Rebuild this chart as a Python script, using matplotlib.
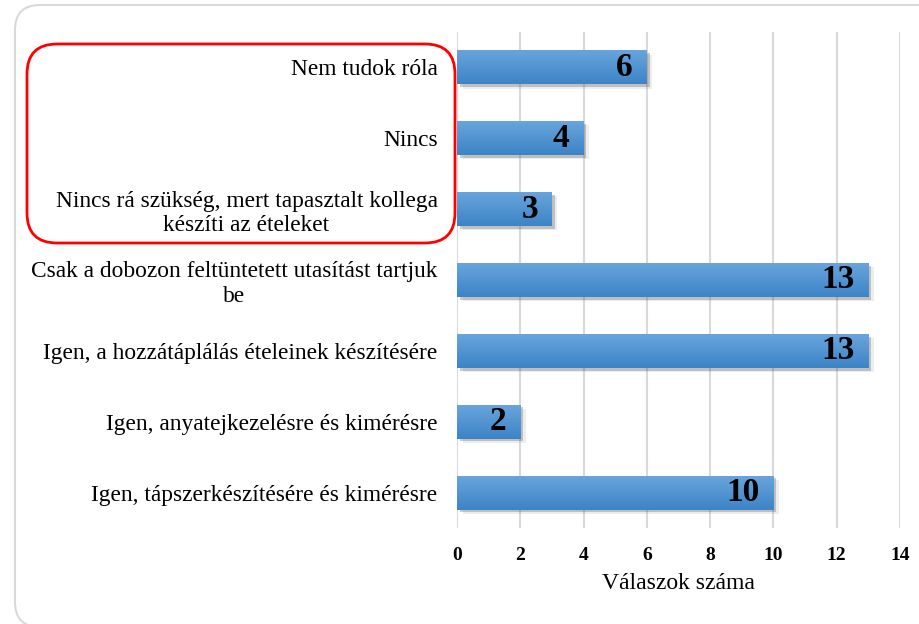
import numpy as np
import matplotlib.pyplot as plt
from matplotlib.patches import FancyBboxPatch
from matplotlib.transforms import IdentityTransform
from matplotlib.colors import LinearSegmentedColormap
import matplotlib.patheffects as pe

categories = [
    "Nem tudok róla",
    "Nincs",
    "Nincs rá szükség, mert tapasztalt kollega\nkészíti az ételeket",
    "Csak a dobozon feltüntetett utasítást tartjuk\nbe",
    "Igen, a hozzátáplálás ételeinek készítésére",
    "Igen, anyatejkezelésre és kimérésre",
    "Igen, tápszerkészítésére és kimérésre",
]
values = [6, 4, 3, 13, 13, 2, 10]
xticks = [0, 2, 4, 6, 8, 10, 12, 14]
xlabel = "Válaszok száma"

plt.rcParams['font.family'] = ['Liberation Serif', 'DejaVu Serif']

W, H = 919, 624
fig = plt.figure(figsize=(W / 100, H / 100), dpi=100)
ax = fig.add_axes([457 / W, 1 - 528 / H, (900 - 457) / W, (528 - 32) / H])

pos = np.arange(len(categories))
shadow = [pe.SimplePatchShadow(offset=(4, -3), shadow_rgbFace='#888888', alpha=0.15),
          pe.SimplePatchShadow(offset=(2, -2), shadow_rgbFace='#555555', alpha=0.3),
          pe.Normal()]
bars = ax.barh(pos, values, height=0.48, color='#4b91d3', zorder=3, path_effects=shadow)

# vertical gradient on each bar
grad = np.linspace(0, 1, 64).reshape(-1, 1)
cmap = LinearSegmentedColormap.from_list('g', ['#3c84c7', '#6aa5dc'])
for b in bars:
    x0, y0 = b.get_x(), b.get_y()
    w, h = b.get_width(), b.get_height()
    im = ax.imshow(grad, extent=[x0, x0 + w, y0 + h, y0], origin='lower', cmap=cmap,
                   aspect='auto', zorder=4)
    im.set_clip_path(b)

for i, v in enumerate(values):
    ax.annotate(str(v), (v, i), xytext=(-10, 0), textcoords='offset points',
                ha='right', va='center', fontsize=24, fontweight='bold', zorder=5)

ax.set_xlim(0, 14)
ax.set_ylim(len(categories) - 0.5, -0.5)
ax.set_xticks(xticks)
ax.set_xticklabels([str(t) for t in xticks], fontweight='bold', fontsize=14)
ax.set_yticks(pos)
ax.set_yticklabels(categories, fontsize=16.8, multialignment='center')
ax.tick_params(axis='both', length=0)
ax.tick_params(axis='y', pad=14)
ax.tick_params(axis='x', pad=14)
ax.grid(axis='x', color='#d9d9d9', linewidth=1.5, zorder=0)
for s in ax.spines.values():
    s.set_visible(False)
ax.set_xlabel(xlabel, fontsize=17, labelpad=6)

# outer light border
fig.patches.append(FancyBboxPatch((15, -3), 940, 622, boxstyle="round,pad=0,rounding_size=25",
                                  transform=IdentityTransform(), fill=False,
                                  edgecolor='#d9d9d9', linewidth=1.5, figure=fig))
# red highlight box
fig.patches.append(FancyBboxPatch((27, H - 243), 455 - 27, 243 - 44,
                                  boxstyle="round,pad=0,rounding_size=30",
                                  transform=IdentityTransform(), fill=False,
                                  edgecolor='#ff0000', linewidth=2, figure=fig))

fig.savefig("out.png", dpi=100)
